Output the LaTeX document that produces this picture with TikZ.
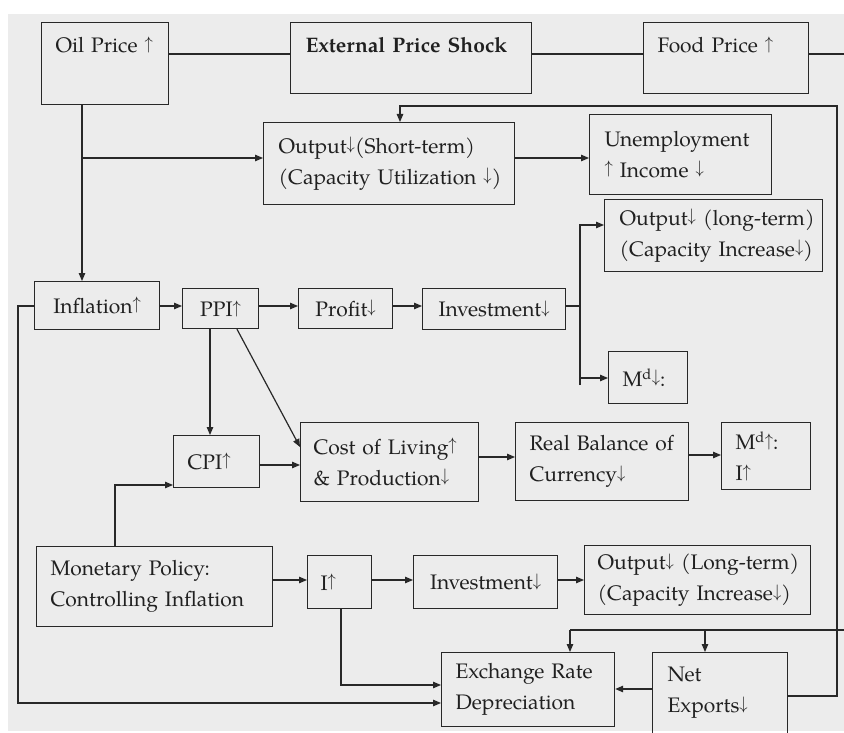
\documentclass[tikz,border=0pt]{standalone}
\usepackage{fontspec}
\setmainfont{TeX Gyre Pagella}
\usetikzlibrary{arrows.meta,calc}
\definecolor{paper}{RGB}{236,236,236}
\definecolor{ink}{RGB}{40,40,40}
\definecolor{letter}{RGB}{32,32,32}
% slim text arrows sitting on the baseline
\newcommand{\upar}{\raisebox{0.17em}{\scalebox{0.8}[0.87]{$\uparrow$}}}
\newcommand{\dnar}{\raisebox{0.17em}{\scalebox{0.8}[0.87]{$\downarrow$}}}

\begin{document}
\begin{tikzpicture}[x=1pt,y=-1pt,
  box/.style={draw=ink, line width=1.2pt, anchor=north west, inner ysep=0pt,
              text=letter, font=\fontsize{21}{31}\selectfont},
  lbox/.style={box, align=left},
  cbox/.style={box, align=center},
  conn/.style={draw=ink, line width=1.2pt},
  arr/.style={conn, -{Triangle[length=8pt,width=6.5pt]}}]

\useasboundingbox (0,0) rectangle (844,733);
\fill[paper] (8,14) rectangle (844,731);

% top row
\node[lbox, inner xsep=14pt, text width=99pt, text height=30pt, text depth=52pt] (oil) at (41,22) {\mbox{Oil Price \upar}};
\node[lbox, inner xsep=15pt, text width=211pt, text height=30pt, text depth=41pt, font=\fontsize{21}{31}\selectfont\bfseries] (ext) at (290,22) {\mbox{External Price Shock}};
\node[lbox, inner xsep=14pt, text width=137pt, text height=30pt, text depth=41pt] (food) at (643,22) {\mbox{Food Price \upar}};

% short-term output and its effects
\node[lbox, inner xsep=15pt, text width=221pt, minimum height=82pt] (outS) at (263,122) {\mbox{Output\dnar(Short-term)}\\\mbox{(Capacity Utilization \dnar)}};
\node[lbox, inner xsep=15pt, text width=152pt, minimum height=80pt] (unemp) at (589,114) {\mbox{Unemployment}\\\mbox{\upar{} Income \dnar}};
\node[lbox, inner xsep=15pt, text width=188pt, minimum height=72pt] (outL) at (604,199) {\mbox{Output\dnar{} (long-term)}\\\mbox{(Capacity Increase\dnar)}};

% price chain
\node[cbox, inner xsep=8pt, text width=109pt, minimum height=48pt] (infl) at (34,281) {\mbox{Inflation\upar}};
\node[cbox, inner xsep=4pt, text width=68pt, minimum height=40pt] (ppi) at (182,288) {\mbox{PPI\upar}};
\node[cbox, inner xsep=4pt, text width=86pt, minimum height=40pt] (profit) at (298,288) {\mbox{Profit\dnar}};
\node[cbox, inner xsep=4pt, text width=135pt, minimum height=41pt] (inv1) at (422,288) {\mbox{Investment\dnar}};
\node[lbox, inner xsep=14pt, text width=51pt, minimum height=52pt] (md1) at (608,351) {\mbox{M\textsuperscript{d}\dnar:}};

\node[lbox, inner xsep=14pt, text width=58pt, minimum height=52pt] (cpi) at (173,435) {\mbox{CPI\upar}};
\node[lbox, inner xsep=13pt, text width=152pt, minimum height=79pt] (cost) at (300,422) {\mbox{Cost of Living\upar}\\\mbox{\& Production\dnar}};
\node[lbox, inner xsep=14pt, text width=145pt, minimum height=78pt] (real) at (515,422) {\mbox{Real Balance of}\\\mbox{Currency\dnar}};
\node[lbox, inner xsep=14pt, text width=61pt, minimum height=67pt] (md2) at (721,422) {\mbox{M\textsuperscript{d}\upar:}\\\mbox{I\upar}};

% monetary policy chain
\node[lbox, inner xsep=14pt, text width=208pt, minimum height=80pt] (mon) at (36,546) {\mbox{Monetary Policy:}\\\mbox{Controlling Inflation}};
\node[lbox, inner xsep=13pt, text width=38pt, minimum height=53pt] (iup) at (307,555) {\mbox{I\upar}};
\node[cbox, inner xsep=4pt, text width=136pt, minimum height=53pt] (inv2) at (413,555) {\mbox{Investment\dnar}};
\node[lbox, inner xsep=13pt, text width=200pt, minimum height=69pt] (outL2) at (584,545) {\mbox{Output\dnar{} (Long-term)}\\\mbox{(Capacity Increase\dnar)}};

% external sector
\node[lbox, inner xsep=14pt, text width=145pt, minimum height=74pt] (exch) at (441,652) {\mbox{Exchange Rate}\\\mbox{Depreciation}};
\node[lbox, inner xsep=15pt, text width=105pt, text height=29pt, text depth=61pt] (net) at (652,652) {\mbox{Net}\\\mbox{Exports\dnar}};

% links along the top row
\draw[conn] (oil.east |- 0,54) -- (ext.west |- 0,54);
\draw[conn] (ext.east |- 0,54) -- (food.west |- 0,54);
\draw[conn] (food.east |- 0,54) -- (870,54) -- (870,630) -- (570,630);
\draw[arr] (570,630) -- (570,0 |- exch.north);
\draw[arr] (705,630) -- (705,0 |- net.north);

% oil price effects
\draw[arr] (82,0 |- oil.south) -- (82,0 |- infl.north);
\draw[arr] (82,158) -- (outS.west |- 0,158);
\draw[arr] (outS.east |- 0,158) -- (unemp.west |- 0,158);

% feedback from net exports to short-term output
\draw[arr] (net.east |- 0,696) -- (837,696) -- (837,106) -- (400,106) -- (400,0 |- outS.north);

% price chain
\draw[arr] (infl.east |- 0,306) -- (ppi.west |- 0,306);
\draw[arr] (ppi.east |- 0,306) -- (profit.west |- 0,306);
\draw[arr] (profit.east |- 0,306) -- (inv1.west |- 0,306);
\coordinate (split) at (580,306);
\draw[conn] (inv1.east |- split) -- (split);
\draw[arr] (580,385) -- (580,225) -- (outL.west |- 0,225);
\draw[arr] (580,378) -- (md1.west |- 0,378);

\draw[arr] (210,0 |- ppi.south) -- (210,0 |- cpi.north);
\draw[arr] (237,0 |- ppi.south) -- ($(cost.north west)+(0,25)$);
\draw[arr] (cpi.east |- 0,465) -- (cost.west |- 0,465);
\draw[arr] (cost.east |- 0,457) -- (real.west |- 0,457);
\draw[arr] (real.east |- 0,455) -- (md2.west |- 0,455);

% monetary policy
\draw[arr] (115,0 |- mon.north) -- (115,485) -- (cpi.west |- 0,485);
\draw[arr] (mon.east |- 0,580) -- (iup.west |- 0,580);
\draw[arr] (iup.east |- 0,580) -- (inv2.west |- 0,580);
\draw[arr] (inv2.east |- 0,580) -- (outL2.west |- 0,580);
\draw[arr] (341,0 |- iup.south) -- (341,685) -- (exch.west |- 0,685);

% inflation loop and net exports
\draw[arr] (infl.west |- 0,306) -- (18,306) -- (18,703) -- (exch.west |- 0,703);
\draw[arr] (net.west |- 0,689) -- (exch.east |- 0,689);
\end{tikzpicture}
\end{document}
